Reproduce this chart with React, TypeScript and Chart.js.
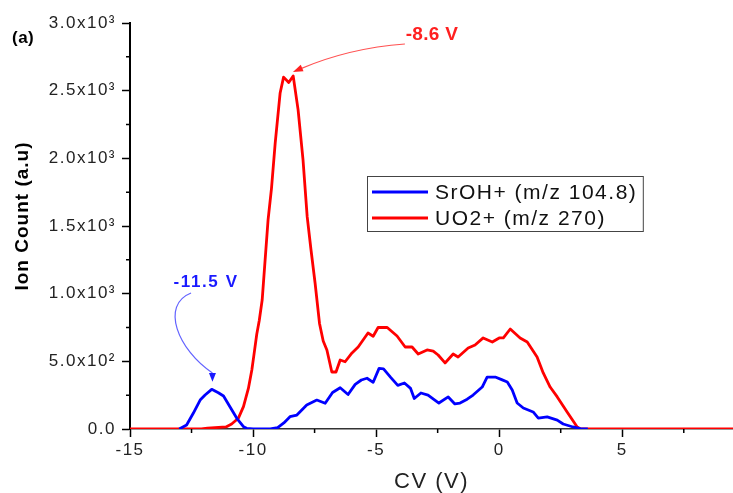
import React, { useEffect, useRef } from 'react';
import { Chart, registerables } from 'chart.js';

Chart.register(...registerables);

const FONT = '"Liberation Sans", Arial, Helvetica, sans-serif';

// SrOH+ (m/z 104.8)
const srohCV = [-13.0, -12.7, -12.43, -12.15, -11.95, -11.68, -11.41, -11.2, -10.94, -10.66, -10.39, -10.26, -10.0, -9.3, -9.0, -8.75, -8.5, -8.22, -7.82, -7.41, -7.07, -6.77, -6.46, -6.14, -5.85, -5.6, -5.37, -5.12, -4.88, -4.7, -4.4, -4.12, -3.85, -3.6, -3.45, -3.18, -2.89, -2.45, -2.07, -1.8, -1.59, -1.3, -1.06, -0.69, -0.49, -0.16, 0.1, 0.33, 0.53, 0.73, 0.98, 1.38, 1.59, 1.95, 2.36, 2.6, 3.0, 3.3, 3.6];
const srohCount = [0, 30, 116, 214, 251, 293, 268, 244, 165, 79, 17, 5, 0, 0, 10, 45, 91, 103, 177, 214, 190, 270, 305, 255, 330, 362, 375, 345, 448, 445, 380, 322, 340, 300, 225, 266, 251, 192, 237, 185, 192, 220, 251, 310, 384, 384, 365, 347, 288, 192, 155, 126, 81, 89, 66, 37, 15, 3, 0];

// UO2+ (m/z 270)
const uo2CV = [-15, -12.1, -11.85, -11.1, -10.87, -10.6, -10.39, -10.19, -10.05, -9.97, -9.85, -9.75, -9.63, -9.51, -9.39, -9.25, -9.1, -8.9, -8.76, -8.55, -8.37, -8.17, -7.97, -7.8, -7.65, -7.48, -7.3, -7.15, -7.0, -6.8, -6.63, -6.46, -6.26, -5.98, -5.73, -5.33, -5.12, -4.92, -4.55, -4.15, -3.82, -3.54, -3.29, -2.93, -2.68, -2.48, -2.2, -1.87, -1.67, -1.26, -0.98, -0.65, -0.28, 0.0, 0.17, 0.45, 0.85, 1.14, 1.54, 1.79, 2.07, 2.36, 2.76, 3.17, 3.3, 9.5];
const uo2Count = [0, 0, 6, 15, 37, 79, 165, 300, 436, 540, 700, 800, 953, 1249, 1545, 1780, 2114, 2483, 2600, 2560, 2609, 2358, 1988, 1567, 1330, 1079, 780, 650, 584, 421, 421, 510, 497, 562, 606, 709, 685, 750, 750, 687, 606, 606, 554, 584, 576, 547, 488, 554, 532, 599, 621, 673, 643, 673, 673, 739, 673, 643, 532, 414, 310, 237, 126, 15, 0, 0];

const seriesNames = ['SrOH+ (m/z 104.8)', 'UO2+ (m/z 270)'];
const seriesColors = ['#0000ff', '#ff0000'];
const xTitle = 'CV (V)';
const yTitle = 'Ion Count (a.u)';
const panelTag = '(a)';
const peakTexts = ['-11.5 V', '-8.6 V'];
const xMin = -15;
const xMax = 9.5;
const xStep = 5;
const yMin = 0;
const yMax = 3000;
const yStep = 500;

const SUP: Record<string, string> = { '0': '⁰', '1': '¹', '2': '²', '3': '³', '4': '⁴', '5': '⁵', '6': '⁶', '7': '⁷', '8': '⁸', '9': '⁹', '-': '⁻' };

function sciLabel(v: number): string {
  if (v === 0) return '0.0';
  const e = Math.floor(Math.log10(Math.abs(v)) + 1e-9);
  const m = v / Math.pow(10, e);
  return m.toFixed(1) + 'x10' + String(e).split('').map((c) => SUP[c] || c).join('');
}

function toPoints(xs: number[], ys: number[]) {
  return xs.map((x, i) => ({ x, y: ys[i] }));
}

function arrowHead(ctx: CanvasRenderingContext2D, tx: number, ty: number, ux: number, uy: number, len: number, half: number) {
  const bx = tx - ux * len;
  const by = ty - uy * len;
  ctx.beginPath();
  ctx.moveTo(tx, ty);
  ctx.lineTo(bx - uy * half, by + ux * half);
  ctx.lineTo(bx + uy * half, by - ux * half);
  ctx.closePath();
  ctx.fill();
}

const decorPlugin = {
  id: 'decor',
  beforeDraw(chart: any) {
    (chart.ctx as any).letterSpacing = '1.5px';
  },
  afterDraw(chart: any) {
    const ctx = chart.ctx as any;
    const xs = chart.scales.x;
    const ys = chart.scales.y;
    const ca = chart.chartArea;
    ctx.save();
    ctx.letterSpacing = '0px';

    // minor ticks
    ctx.strokeStyle = '#000';
    ctx.lineWidth = 1.5;
    ctx.beginPath();
    for (const t of xs.ticks) {
      const m = t.value + xStep / 2;
      if (m <= xs.max) {
        const px = xs.getPixelForValue(m);
        ctx.moveTo(px, ca.bottom);
        ctx.lineTo(px, ca.bottom + 4);
      }
    }
    for (const t of ys.ticks) {
      const m = t.value + yStep / 2;
      if (m <= ys.max) {
        const py = ys.getPixelForValue(m);
        ctx.moveTo(ca.left, py);
        ctx.lineTo(ca.left - 4, py);
      }
    }
    ctx.stroke();

    // legend box
    ctx.font = `21px ${FONT}`;
    ctx.letterSpacing = '1.5px';
    const textW = Math.max(...seriesNames.map((n) => ctx.measureText(n).width));
    const bx = ca.left + 237.5;
    const by = ca.top + 153.5;
    const textX = bx + 67.5;
    const bw = textX - bx + textW + 6;
    const bh = 55;
    ctx.strokeStyle = '#444';
    ctx.lineWidth = 1;
    ctx.strokeRect(bx, by, bw, bh);
    const rowsY = [by + 15.5, by + 41.5];
    seriesNames.forEach((name, i) => {
      ctx.strokeStyle = seriesColors[i];
      ctx.lineWidth = 2.8;
      ctx.beginPath();
      ctx.moveTo(bx + 4.5, rowsY[i]);
      ctx.lineTo(bx + 60.5, rowsY[i]);
      ctx.stroke();
      ctx.fillStyle = '#111';
      ctx.textAlign = 'left';
      ctx.textBaseline = 'middle';
      ctx.fillText(name, textX, rowsY[i] + 1);
    });

    // y axis title
    ctx.save();
    ctx.translate(23, (ca.top + ca.bottom) / 2 - 10);
    ctx.rotate(-Math.PI / 2);
    ctx.font = `bold 19px ${FONT}`;
    ctx.letterSpacing = '1px';
    ctx.fillStyle = '#000';
    ctx.textAlign = 'center';
    ctx.textBaseline = 'middle';
    ctx.fillText(yTitle, 0, 0);
    ctx.restore();

    // panel tag
    ctx.font = `bold 17px ${FONT}`;
    ctx.letterSpacing = '0.5px';
    ctx.fillStyle = '#000';
    ctx.textAlign = 'left';
    ctx.textBaseline = 'middle';
    ctx.fillText(panelTag, 12, 38);

    const P = (v: number, c: number) => [xs.getPixelForValue(v), ys.getPixelForValue(c)];

    // red peak annotation
    {
      const [sx, sy] = P(-3.83, 2845);
      const [cx, cy] = P(-6.1, 2815);
      const [tx, ty] = P(-8.38, 2638);
      let ux = tx - cx, uy = ty - cy;
      const l = Math.hypot(ux, uy);
      ux /= l; uy /= l;
      const hl = 10;
      ctx.strokeStyle = 'rgba(255,50,50,0.85)';
      ctx.lineWidth = 1.2;
      ctx.beginPath();
      ctx.moveTo(sx, sy);
      ctx.quadraticCurveTo(cx, cy, tx - ux * hl * 0.8, ty - uy * hl * 0.8);
      ctx.stroke();
      ctx.fillStyle = '#ff2020';
      arrowHead(ctx, tx, ty, ux, uy, hl, 3.5);
      const [lx, ly] = P(-2.73, 2911);
      ctx.font = `bold 19px ${FONT}`;
      ctx.letterSpacing = '0.3px';
      ctx.fillStyle = '#ff2020';
      ctx.textAlign = 'center';
      ctx.textBaseline = 'middle';
      ctx.fillText(peakTexts[1], lx, ly);
    }

    // blue peak annotation
    {
      const [p0x, p0y] = P(-12.52, 1005);
      const [c1x, c1y] = P(-13.78, 916);
      const [c2x, c2y] = P(-13.05, 584);
      const [p3x, p3y] = P(-11.65, 414);
      const [tx, ty] = P(-11.65, 350);
      ctx.strokeStyle = 'rgba(70,70,255,0.85)';
      ctx.lineWidth = 1.2;
      ctx.beginPath();
      ctx.moveTo(p0x, p0y);
      ctx.bezierCurveTo(c1x, c1y, c2x, c2y, p3x, p3y);
      ctx.stroke();
      ctx.fillStyle = '#1a1aff';
      arrowHead(ctx, tx, ty, 0, 1, ty - p3y, 3.5);
      const [lx, ly] = P(-11.95, 1086);
      ctx.font = `bold 17px ${FONT}`;
      ctx.letterSpacing = '1.6px';
      ctx.fillStyle = '#1a1aff';
      ctx.textAlign = 'center';
      ctx.textBaseline = 'middle';
      ctx.fillText(peakTexts[0], lx + 1, ly);
    }

    ctx.restore();
    ctx.letterSpacing = '0px';
  },
};

export default function App() {
  const ref = useRef<HTMLCanvasElement | null>(null);

  useEffect(() => {
    if (!ref.current) return;
    const chart = new Chart(ref.current, {
      type: 'line',
      data: {
        datasets: [
          {
            label: seriesNames[0],
            data: toPoints(srohCV, srohCount),
            borderColor: seriesColors[0],
            backgroundColor: seriesColors[0],
            borderWidth: 2.8,
            pointRadius: 0,
            tension: 0,
            fill: false,
            borderJoinStyle: 'round',
          },
          {
            label: seriesNames[1],
            data: toPoints(uo2CV, uo2Count),
            borderColor: seriesColors[1],
            backgroundColor: seriesColors[1],
            borderWidth: 2.8,
            pointRadius: 0,
            tension: 0,
            fill: false,
            borderJoinStyle: 'round',
          },
        ],
      },
      options: {
        responsive: false,
        animation: false,
        events: [],
        layout: { padding: { top: 23, right: 0, bottom: 0, left: 0 } },
        plugins: {
          legend: { display: false },
          tooltip: { enabled: false },
          title: { display: false },
        },
        scales: {
          x: {
            type: 'linear',
            min: xMin,
            max: xMax,
            border: { display: true, color: '#333', width: 1.5 },
            grid: { drawOnChartArea: false, tickLength: 8, tickWidth: 1.5, tickColor: '#000' },
            ticks: {
              stepSize: xStep,
              includeBounds: false,
              maxRotation: 0,
              autoSkip: false,
              padding: 3,
              color: '#222',
              font: { size: 17, family: FONT },
            },
            title: {
              display: true,
              text: xTitle,
              color: '#222',
              font: { size: 22, family: FONT, lineHeight: 1 },
              padding: { top: 0, bottom: 0 },
            },
            afterFit: (s: any) => {
              s.height = 64;
            },
          },
          y: {
            type: 'linear',
            min: yMin,
            max: yMax,
            border: { display: true, color: '#000', width: 2 },
            grid: { drawOnChartArea: false, tickLength: 8, tickWidth: 1.5, tickColor: '#000' },
            ticks: {
              stepSize: yStep,
              padding: 6,
              color: '#222',
              font: { size: 17, family: FONT },
              callback: (v: any) => sciLabel(Number(v)),
            },
            afterFit: (s: any) => {
              s.width = 130;
            },
          },
        },
      } as any,
      plugins: [decorPlugin],
    });
    return () => chart.destroy();
  }, []);

  return (
    <div style={{ position: 'absolute', left: 0, top: 0, width: 733, height: 493, background: '#fff' }}>
      <canvas ref={ref} width={733} height={493} style={{ display: 'block' }} />
    </div>
  );
}
